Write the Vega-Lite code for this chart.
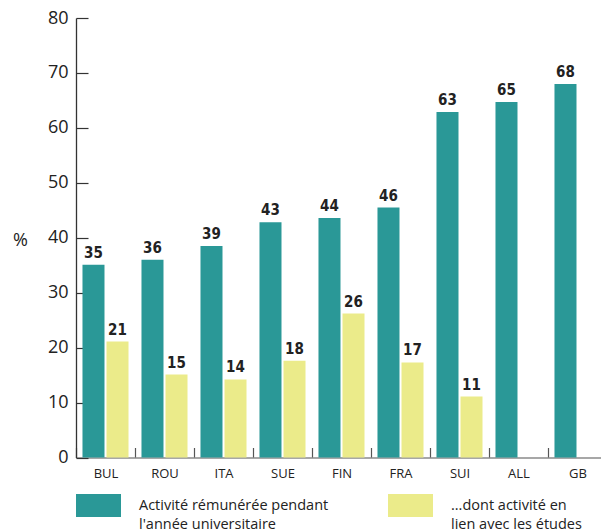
{
  "$schema": "https://vega.github.io/schema/vega-lite/v6.json",
  "width": 525,
  "height": 439.5,
  "autosize": {"type": "none"},
  "padding": {"left": 76, "top": 18, "right": 0, "bottom": 72.5},
  "config": {"view": {"stroke": null}, "font": "Open Sans", "style": {"guide-label": {"lineHeight": 19}}},
  "data": {
    "values": [
      {"pays": "BUL", "serie": "Activité rémunérée pendant l'année universitaire", "valeur": 35.1, "label": "35"},
      {"pays": "BUL", "serie": "...dont activité en lien avec les études", "valeur": 21.1, "label": "21"},
      {"pays": "ROU", "serie": "Activité rémunérée pendant l'année universitaire", "valeur": 36.0, "label": "36"},
      {"pays": "ROU", "serie": "...dont activité en lien avec les études", "valeur": 15.1, "label": "15"},
      {"pays": "ITA", "serie": "Activité rémunérée pendant l'année universitaire", "valeur": 38.5, "label": "39"},
      {"pays": "ITA", "serie": "...dont activité en lien avec les études", "valeur": 14.2, "label": "14"},
      {"pays": "SUE", "serie": "Activité rémunérée pendant l'année universitaire", "valeur": 42.8, "label": "43"},
      {"pays": "SUE", "serie": "...dont activité en lien avec les études", "valeur": 17.6, "label": "18"},
      {"pays": "FIN", "serie": "Activité rémunérée pendant l'année universitaire", "valeur": 43.6, "label": "44"},
      {"pays": "FIN", "serie": "...dont activité en lien avec les études", "valeur": 26.2, "label": "26"},
      {"pays": "FRA", "serie": "Activité rémunérée pendant l'année universitaire", "valeur": 45.5, "label": "46"},
      {"pays": "FRA", "serie": "...dont activité en lien avec les études", "valeur": 17.3, "label": "17"},
      {"pays": "SUI", "serie": "Activité rémunérée pendant l'année universitaire", "valeur": 62.9, "label": "63"},
      {"pays": "SUI", "serie": "...dont activité en lien avec les études", "valeur": 11.1, "label": "11"},
      {"pays": "ALL", "serie": "Activité rémunérée pendant l'année universitaire", "valeur": 64.7, "label": "65"},
      {"pays": "GB", "serie": "Activité rémunérée pendant l'année universitaire", "valeur": 68.0, "label": "68"}
    ]
  },
  "encoding": {
    "x": {
      "field": "pays",
      "type": "nominal",
      "sort": ["BUL", "ROU", "ITA", "SUE", "FIN", "FRA", "SUI", "ALL", "GB"],
      "scale": {"range": [0, 531], "paddingInner": 0, "paddingOuter": 0},
      "axis": {
        "title": null,
        "labelAngle": 0,
        "tickBand": "extent",
        "tickSize": -10,
        "labelPadding": 20,
        "labelBaseline": "top",
        "labelFontSize": 13,
        "labelColor": "#222",
        "domainColor": "#8a8a8a",
        "domainWidth": 1.5,
        "tickColor": "#555",
        "tickWidth": 1.2
      }
    },
    "xOffset": {
      "field": "serie",
      "type": "nominal",
      "sort": ["Activité rémunérée pendant l'année universitaire", "...dont activité en lien avec les études"],
      "scale": {"paddingInner": 0.0833, "paddingOuter": 0.27}
    },
    "y": {
      "field": "valeur",
      "type": "quantitative",
      "scale": {"domain": [0, 80], "nice": false},
      "axis": {
        "title": "%",
        "titleAngle": 0,
        "titleX": -56,
        "titleY": 222,
        "titleAlign": "center",
        "titleBaseline": "middle",
        "titleFontSize": 18,
        "titleFontWeight": "normal",
        "titleColor": "#222",
        "values": [0, 10, 20, 30, 40, 50, 60, 70, 80],
        "grid": false,
        "tickSize": -12,
        "labelPadding": 20,
        "labelFontSize": 18,
        "labelColor": "#222",
        "domainColor": "#333",
        "domainWidth": 1.3,
        "tickColor": "#333",
        "tickWidth": 1.2
      }
    }
  },
  "layer": [
    {
      "mark": {"type": "bar"},
      "encoding": {
        "color": {
          "field": "serie",
          "type": "nominal",
          "scale": {
            "domain": ["Activité rémunérée pendant l'année universitaire", "...dont activité en lien avec les études"],
            "range": ["#2a9897", "#ebeb8a"]
          },
          "legend": {
            "title": null,
            "orient": "none",
            "legendX": 0,
            "legendY": 465,
            "direction": "horizontal",
            "columns": 2,
            "padding": 0,
            "symbolType": "M-1,-0.511L1,-0.511L1,0.511L-1,0.511Z",
            "symbolSize": 2025,
            "symbolStrokeWidth": 0,
            "symbolOpacity": 1,
            "labelOffset": 18,
            "labelFontSize": 14.5,
            "labelColor": "#222",
            "labelLimit": 0,
            "columnPadding": 59,
            "labelExpr": "datum.label[0] == 'A' ? ['Activité rémunérée pendant', \"l'année universitaire\"] : ['...dont activité en', 'lien avec les études']"
          }
        }
      }
    },
    {
      "mark": {
        "type": "text",
        "baseline": "bottom",
        "dy": -4,
        "font": "'DejaVu Sans Condensed', Roboto",
        "fontWeight": "bold",
        "fontSize": 15,
        "color": "#222"
      },
      "encoding": {"text": {"field": "label"}}
    }
  ]
}
